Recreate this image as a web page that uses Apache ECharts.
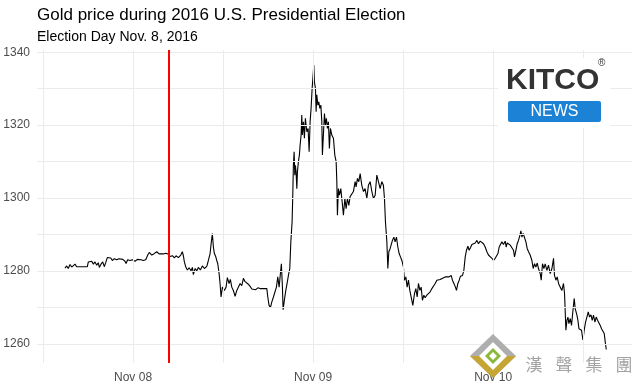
<!DOCTYPE html>
<html>
<head>
<meta charset="utf-8">
<script src="https://cdn.jsdelivr.net/npm/echarts@6/dist/echarts.min.js"></script>
<style>html,body{margin:0;padding:0;background:#fff;}#c{width:634px;height:385px;}</style>
</head>
<body>
<div id="c"></div>
<script>
// time in hours relative to Nov 08 00:00
var hours = [-9.07,-8.84,-8.63,-8.40,-8.17,-7.96,-7.73,-7.51,-7.29,-7.07,-6.09,-5.96,-5.73,-5.51,-5.29,-5.07,-4.84,-4.63,-4.49,-4.27,-4.04,-3.83,-3.64,-3.43,-3.20,-2.97,-2.76,-2.49,-2.17,-1.87,-1.64,-1.37,-1.07,-0.93,-0.71,-0.40,-0.09,0.27,0.57,0.80,1.07,1.37,1.69,1.96,2.17,2.49,2.76,2.93,3.16,3.47,3.73,4.04,4.36,4.71,4.93,5.24,5.51,5.73,6.04,6.36,6.57,6.71,6.84,7.03,7.24,7.47,7.73,7.91,8.04,8.27,8.49,8.71,8.97,9.24,9.51,9.83,10.04,10.27,10.40,10.57,10.71,10.84,11.03,11.16,11.29,11.47,11.60,11.73,11.91,12.17,12.40,12.57,12.80,12.97,13.16,13.37,13.60,13.83,14.04,14.27,14.49,14.71,14.93,15.16,15.37,15.60,15.83,16.09,16.36,16.63,16.93,17.83,17.96,18.13,18.31,18.49,18.71,18.93,19.11,19.29,19.47,19.64,19.77,19.91,20.00,20.17,20.36,20.53,20.71,20.89,21.03,21.20,21.29,21.37,21.47,21.56,21.64,21.73,21.83,21.91,22.04,22.17,22.27,22.40,22.49,22.57,22.71,22.84,22.97,23.16,23.33,23.47,23.60,23.73,23.87,24.00,24.09,24.17,24.31,24.40,24.49,24.63,24.76,24.89,25.03,25.16,25.24,25.37,25.51,25.64,25.77,25.91,26.04,26.17,26.31,26.49,26.71,26.89,27.07,27.16,27.24,27.37,27.51,27.69,27.87,28.04,28.23,28.40,28.57,28.76,28.93,29.16,29.37,29.60,29.73,29.91,30.09,30.27,30.49,30.71,30.93,31.16,31.37,31.60,31.83,32.04,32.27,32.49,32.71,32.93,33.16,33.37,33.51,33.64,33.83,33.96,34.09,34.27,34.40,34.57,34.76,34.93,35.11,35.29,35.47,35.64,35.83,36.04,36.17,36.36,36.53,36.71,36.89,37.07,37.29,37.51,37.69,37.87,38.04,38.23,38.40,38.57,38.76,38.93,39.16,39.37,39.60,39.83,40.04,40.27,40.49,40.71,40.93,41.16,41.60,42.13,42.40,42.57,42.76,42.93,43.11,43.29,43.47,43.64,43.91,44.09,44.27,44.44,44.63,44.80,44.97,45.16,45.37,45.60,45.83,46.04,46.27,46.49,46.71,46.93,47.16,47.37,47.60,47.83,48.04,48.27,48.49,48.63,48.80,48.97,49.16,49.37,49.60,49.73,49.87,50.04,50.27,50.49,50.71,50.84,51.03,51.20,51.37,51.56,51.69,51.83,52.00,52.17,52.36,52.53,52.71,52.93,53.16,53.33,53.51,53.69,53.87,54.04,54.27,54.40,54.57,54.76,54.93,55.16,55.37,55.60,55.83,56.04,56.17,56.36,56.53,56.71,56.93,57.16,57.37,57.51,57.56,57.69,57.83,57.96,58.09,58.27,58.44,58.63,58.80,58.93,59.16,59.29,59.43,59.60,59.77,59.96,60.13,60.31,60.49,60.67,60.84,61.03,61.20,61.37,61.56,61.73,61.91,62.09,62.27,62.44,62.63,62.80,62.93,63.07];
var goldPrice = [1280.8,1281.4,1280.7,1281.8,1281.1,1281.6,1281.9,1281.2,1281.6,1281.2,1281.2,1282.5,1282.1,1282.7,1281.9,1282.5,1281.6,1282.3,1281.0,1281.9,1282.5,1281.2,1282.3,1283.7,1283.2,1283.6,1282.9,1283.4,1283.1,1283.4,1282.9,1283.2,1282.7,1282.1,1283.1,1282.9,1283.1,1282.7,1283.2,1283.7,1283.1,1282.9,1283.1,1284.4,1285.1,1284.4,1284.7,1284.2,1285.3,1284.7,1285.1,1284.7,1284.9,1284.6,1284.0,1284.2,1283.6,1284.2,1283.7,1284.4,1285.3,1284.2,1282.5,1281.1,1280.3,1280.9,1280.1,1281.0,1279.0,1280.7,1280.1,1281.0,1280.3,1281.4,1280.7,1281.3,1282.9,1284.8,1287.4,1290.3,1286.6,1284.8,1283.9,1282.9,1282.0,1279.3,1276.6,1272.9,1275.6,1274.7,1275.6,1278.2,1276.6,1277.7,1275.6,1274.7,1273.1,1274.7,1274.2,1276.6,1276.0,1278.0,1277.1,1276.6,1276.4,1275.8,1275.1,1275.6,1274.9,1275.4,1275.2,1275.2,1272.9,1270.6,1270.0,1271.5,1272.9,1272.5,1275.6,1278.4,1275.6,1279.3,1282.0,1275.6,1269.4,1272.0,1274.7,1276.6,1278.8,1280.7,1288.0,1293.5,1300.8,1309.0,1312.7,1306.3,1309.0,1307.2,1302.6,1307.2,1310.0,1311.8,1314.6,1317.3,1322.8,1317.3,1320.9,1316.4,1321.9,1318.2,1319.1,1312.7,1320.9,1324.6,1330.1,1333.7,1336.5,1331.9,1330.1,1323.7,1328.3,1325.5,1326.4,1324.6,1325.5,1320.9,1311.8,1317.3,1323.2,1320.0,1321.9,1319.1,1320.9,1313.6,1319.1,1317.3,1316.4,1311.8,1310.0,1304.5,1295.3,1302.6,1300.8,1302.6,1299.0,1295.3,1299.9,1297.1,1299.9,1298.0,1300.4,1299.9,1301.8,1304.5,1303.1,1305.4,1304.5,1306.7,1303.5,1301.8,1302.6,1299.9,1303.5,1304.5,1301.8,1299.9,1300.8,1306.3,1304.5,1302.6,1304.5,1303.5,1299.9,1293.5,1288.0,1280.7,1285.3,1286.2,1285.7,1288.4,1289.3,1288.0,1289.3,1286.6,1284.8,1283.9,1282.9,1281.1,1277.5,1278.4,1275.6,1277.5,1274.7,1275.2,1270.6,1273.8,1275.2,1272.9,1276.6,1274.7,1275.6,1272.0,1273.4,1272.7,1273.4,1272.9,1274.3,1275.2,1275.6,1276.6,1277.5,1277.0,1277.7,1278.2,1278.4,1278.4,1278.8,1277.5,1276.6,1275.8,1274.7,1276.6,1277.5,1278.6,1278.8,1280.2,1283.9,1285.7,1286.8,1285.7,1286.4,1287.3,1287.5,1287.7,1288.4,1287.5,1288.2,1288.6,1287.5,1286.6,1285.3,1284.4,1283.9,1283.5,1282.9,1283.5,1283.2,1284.8,1286.6,1287.3,1288.0,1287.3,1288.2,1286.6,1287.7,1288.0,1287.1,1286.4,1285.7,1283.9,1285.7,1287.5,1288.4,1289.8,1291.0,1289.3,1290.3,1289.8,1288.0,1286.2,1285.3,1284.4,1282.9,1280.7,1282.0,1281.1,1282.2,1280.7,1279.3,1277.5,1282.0,1280.7,1282.0,1280.2,1281.6,1279.3,1280.7,1283.5,1278.8,1277.5,1278.4,1276.6,1275.6,1274.7,1276.6,1273.8,1271.1,1263.8,1266.5,1267.4,1265.6,1267.0,1265.1,1269.2,1272.5,1269.7,1267.9,1266.5,1264.2,1264.7,1263.8,1261.1,1263.8,1266.0,1267.4,1268.8,1267.4,1268.0,1266.5,1267.9,1266.0,1267.4,1266.5,1267.0,1265.1,1264.2,1263.8,1262.9,1260.6,1258.5];

var xTickValues = [0, 24, 48];
var xTickLabels = ['Nov 08', 'Nov 09', 'Nov 10'];
var xGridValues = [-12, 0, 12, 24, 36, 48, 60];
var yTickValues = [1260, 1280, 1300, 1320, 1340];
var yGridValues = [1260, 1270, 1280, 1290, 1300, 1310, 1320, 1330, 1340];
var electionHour = 4.7;
var titleText = 'Gold price during 2016 U.S. Presidential Election';
var subtitleText = 'Election Day Nov. 8, 2016';
var watermarkChars = ['漢', '聲', '集', '團'];

var seriesData = hours.map(function (h, i) { return [h, goldPrice[i]]; });
var gridColor = '#ebebeb';
var font = 'Liberation Sans, Arial, sans-serif';

var graphics = [
  {type: 'rect', z: 100, shape: {x: 498, y: 58, width: 112, height: 70}, style: {fill: '#fff'}},
  {type: 'text', z: 101, left: 506, top: 66, style: {text: 'KITCO', fontFamily: font, fontSize: 30, fontWeight: 'bold', fill: '#333'}},
  {type: 'text', z: 101, left: 598, top: 58, style: {text: '®', fontFamily: font, fontSize: 10, fill: '#333'}},
  {type: 'rect', z: 101, shape: {x: 508, y: 101, width: 93, height: 21, r: 2}, style: {fill: '#1b82d6'}},
  {type: 'text', z: 102, x: 554.5, y: 111.5, style: {text: 'NEWS', fontFamily: font, fontSize: 16, fill: '#fff', align: 'center', verticalAlign: 'middle'}},
  {type: 'polygon', z: 101, shape: {points: [[493, 334], [516, 356], [493, 378], [470, 356]]}, style: {fill: 'rgba(165,165,165,0.9)'}},
  {type: 'polygon', z: 101, shape: {points: [[470, 356], [516, 356], [493, 378]]}, style: {fill: 'rgba(200,165,40,0.9)'}},
  {type: 'polygon', z: 102, shape: {points: [[493, 342], [507, 356], [493, 370], [479, 356]]}, style: {fill: '#fff'}},
  {type: 'polygon', z: 102, shape: {points: [[493, 348], [501, 356], [493, 364], [485, 356]]}, style: {fill: '#8ab83a'}},
  {type: 'polygon', z: 102, shape: {points: [[493, 352], [497, 356], [493, 360], [489, 356]]}, style: {fill: '#fff'}}
];
watermarkChars.forEach(function (ch, i) {
  graphics.push({type: 'text', z: 101, x: 534 + i * 30, y: 365, style: {text: ch, fontFamily: 'Noto Sans CJK TC, sans-serif', fontSize: 17, fill: 'rgba(140,140,140,0.8)', align: 'center', verticalAlign: 'middle'}});
});

var chart = echarts.init(document.getElementById('c'), null, {renderer: 'canvas'});
chart.setOption({
  animation: false,
  backgroundColor: '#ffffff',
  title: [
    {text: titleText, left: 32, top: 2, textStyle: {fontFamily: font, fontSize: 17, fontWeight: 'normal', color: '#000'}},
    {text: subtitleText, left: 32, top: 25, textStyle: {fontFamily: font, fontSize: 14, fontWeight: 'normal', color: '#000'}}
  ],
  grid: {left: 37, right: 2, top: 50, bottom: 22, containLabel: false},
  xAxis: {
    type: 'value', min: -12.8, max: 66.5,
    axisLine: {show: false}, axisTick: {show: false}, splitLine: {show: false},
    axisLabel: {
      customValues: xTickValues, margin: 9,
      fontFamily: font, fontSize: 12, color: '#4d4d4d',
      formatter: function (v) { var i = xTickValues.indexOf(v); return i >= 0 ? xTickLabels[i] : ''; }
    }
  },
  yAxis: {
    type: 'value', min: 1254.8, max: 1340.6,
    axisLine: {show: false}, axisTick: {show: false}, splitLine: {show: false},
    axisLabel: {customValues: yTickValues, margin: 7, fontFamily: font, fontSize: 12, color: '#4d4d4d',
      formatter: function (v) { return String(v); }}
  },
  series: [
    {
      type: 'line', data: [], z: 1, silent: true,
      markLine: {
        silent: true, symbol: 'none', animation: false, label: {show: false},
        lineStyle: {color: gridColor, width: 1, type: 'solid'},
        data: xGridValues.map(function (v) { return {xAxis: v}; }).concat(
              yGridValues.map(function (v) { return {yAxis: v}; }))
      }
    },
    {
      type: 'line', data: seriesData, z: 3, showSymbol: false, symbol: 'none',
      sampling: null, lineStyle: {color: '#000', width: 1.1}, silent: true
    },
    {
      type: 'line', data: [], z: 4, silent: true,
      markLine: {
        silent: true, symbol: 'none', animation: false, label: {show: false},
        lineStyle: {color: '#ff0000', width: 2, type: 'solid'},
        data: [{xAxis: electionHour}]
      }
    }
  ],
  graphic: graphics
});
</script>
</body>
</html>
